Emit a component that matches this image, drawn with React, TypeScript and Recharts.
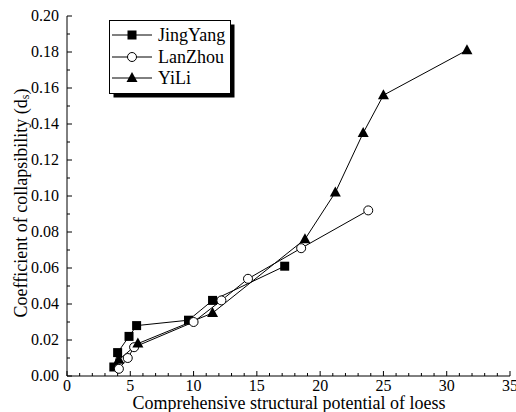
import React from "react";
import { ComposedChart, Line, XAxis, YAxis } from "recharts";

const jingYang = [
  { x: 3.7, y: 0.005 },
  { x: 4.0, y: 0.013 },
  { x: 4.9, y: 0.022 },
  { x: 5.5, y: 0.028 },
  { x: 9.6, y: 0.031 },
  { x: 11.5, y: 0.042 },
  { x: 17.2, y: 0.061 },
];

const lanZhou = [
  { x: 4.1, y: 0.004 },
  { x: 4.8, y: 0.01 },
  { x: 5.3, y: 0.016 },
  { x: 10.0, y: 0.03 },
  { x: 12.2, y: 0.042 },
  { x: 14.3, y: 0.054 },
  { x: 18.5, y: 0.071 },
  { x: 23.8, y: 0.092 },
];

const yiLi = [
  { x: 4.1, y: 0.009 },
  { x: 5.6, y: 0.018 },
  { x: 11.5, y: 0.035 },
  { x: 18.8, y: 0.076 },
  { x: 21.2, y: 0.102 },
  { x: 23.4, y: 0.135 },
  { x: 25.0, y: 0.156 },
  { x: 31.6, y: 0.181 },
];

const seriesNames = ["JingYang", "LanZhou", "YiLi"];

const xTicks = [
  0, 1, 2, 3, 4, 5, 6, 7, 8, 9, 10, 11, 12, 13, 14, 15, 16, 17, 18, 19, 20,
  21, 22, 23, 24, 25, 26, 27, 28, 29, 30, 31, 32, 33, 34, 35,
];
const yTicks = [
  0, 0.01, 0.02, 0.03, 0.04, 0.05, 0.06, 0.07, 0.08, 0.09, 0.1, 0.11, 0.12,
  0.13, 0.14, 0.15, 0.16, 0.17, 0.18, 0.19, 0.2,
];

const xTitle = "Comprehensive structural potential of loess";
const yTitle = "Coefficient of collapsibility (d";

const FONT = "'Liberation Serif', 'Times New Roman', serif";

const XTick = (props: any) => {
  const { x, y, payload } = props;
  const v = payload.value;
  const major = v % 5 === 0;
  return (
    <g>
      <line x1={x} x2={x} y1={y} y2={y - (major ? 5 : 3)} stroke="#000" strokeWidth={1} />
      {major && (
        <text x={x} y={y + 15} textAnchor="middle" fontSize={16} fontFamily={FONT} fill="#000">
          {v}
        </text>
      )}
    </g>
  );
};

const YTick = (props: any) => {
  const { x, y, payload } = props;
  const v = payload.value;
  const major = Math.round(v * 100) % 2 === 0;
  return (
    <g>
      <line x1={x} x2={x + (major ? 5 : 3)} y1={y} y2={y} stroke="#000" strokeWidth={1} />
      {major && (
        <text x={x - 8} y={y + 5} textAnchor="end" fontSize={16} fontFamily={FONT} fill="#000">
          {v.toFixed(2)}
        </text>
      )}
    </g>
  );
};

const SquareDot = (props: any) => {
  const { cx, cy } = props;
  if (cx == null || cy == null) return null;
  return <rect x={cx - 4.5} y={cy - 4.5} width={9} height={9} fill="#000" />;
};
const CircleDot = (props: any) => {
  const { cx, cy } = props;
  if (cx == null || cy == null) return null;
  return <circle cx={cx} cy={cy} r={4.5} fill="#fff" stroke="#000" strokeWidth={1} />;
};
const TriDot = (props: any) => {
  const { cx, cy } = props;
  if (cx == null || cy == null) return null;
  return <polygon points={`${cx},${cy - 6} ${cx - 5.5},${cy + 4} ${cx + 5.5},${cy + 4}`} fill="#000" />;
};

const LegendBox = () => {
  const dots = [SquareDot, CircleDot, TriDot];
  const ys = [15, 37, 58];
  return (
    <svg width={128} height={80} style={{ display: "block" }}>
      <rect x={4.5} y={4.5} width={121} height={73} fill="#000" />
      <rect x={0.5} y={0.5} width={121} height={73} fill="#fff" stroke="#000" strokeWidth={1} />
      {seriesNames.map((name, i) => {
        const Dot = dots[i];
        const y = ys[i];
        return (
          <g key={name}>
            <line x1={3} x2={43} y1={y} y2={y} stroke="#000" strokeWidth={1} />
            <Dot cx={23} cy={y} />
            <text x={49} y={y + 6} fontSize={18} fontFamily={FONT} fill="#000">
              {name}
            </text>
          </g>
        );
      })}
    </svg>
  );
};

const YTitle = () => {
  const cx = 21;
  const cy = 203;
  return (
    <text
      x={cx}
      y={cy}
      transform={`rotate(-90 ${cx} ${cy})`}
      textAnchor="middle"
      fontSize={18}
      fontFamily={FONT}
      fill="#000"
      dominantBaseline="central"
    >
      {yTitle}
      <tspan dy={4} fontSize={12}>s</tspan>
      <tspan dy={-4}>)</tspan>
    </text>
  );
};

const XTitle = () => (
  <text x={289} y={409} textAnchor="middle" fontSize={18} fontFamily={FONT} fill="#000">
    {xTitle}
  </text>
);

export default function App() {
  return (
    <div style={{ position: "absolute", left: 0, top: 0, width: 516, height: 412, background: "#fff", overflow: "hidden" }}>
      <ComposedChart
        width={516}
        height={412}
        margin={{ top: 16, right: 6, left: 0, bottom: 0 }}
      >
        <XAxis
          type="number"
          dataKey="x"
          domain={[0, 35]}
          ticks={xTicks}
          interval={0}
          tickSize={0}
          tickMargin={0}
          tickLine={false}
          tick={<XTick />}
          height={36}
          axisLine={{ stroke: "#000", strokeWidth: 1 }}
          allowDataOverflow
          label={<XTitle />}
        />
        <YAxis
          type="number"
          dataKey="y"
          domain={[0, 0.2]}
          ticks={yTicks}
          interval={0}
          tickSize={0}
          tickMargin={0}
          tickLine={false}
          tick={<YTick />}
          width={67}
          axisLine={{ stroke: "#000", strokeWidth: 1 }}
          allowDataOverflow
          label={<YTitle />}
        />
        <Line
          data={jingYang}
          dataKey="y"
          name={seriesNames[0]}
          stroke="#000"
          strokeWidth={1}
          dot={<SquareDot />}
          activeDot={false}
          isAnimationActive={false}
          type="linear"
        />
        <Line
          data={lanZhou}
          dataKey="y"
          name={seriesNames[1]}
          stroke="#000"
          strokeWidth={1}
          dot={<CircleDot />}
          activeDot={false}
          isAnimationActive={false}
          type="linear"
        />
        <Line
          data={yiLi}
          dataKey="y"
          name={seriesNames[2]}
          stroke="#000"
          strokeWidth={1}
          dot={<TriDot />}
          activeDot={false}
          isAnimationActive={false}
          type="linear"
        />
      </ComposedChart>
      <div style={{ position: "absolute", left: 109, top: 20 }}>
        <LegendBox />
      </div>
    </div>
  );
}
